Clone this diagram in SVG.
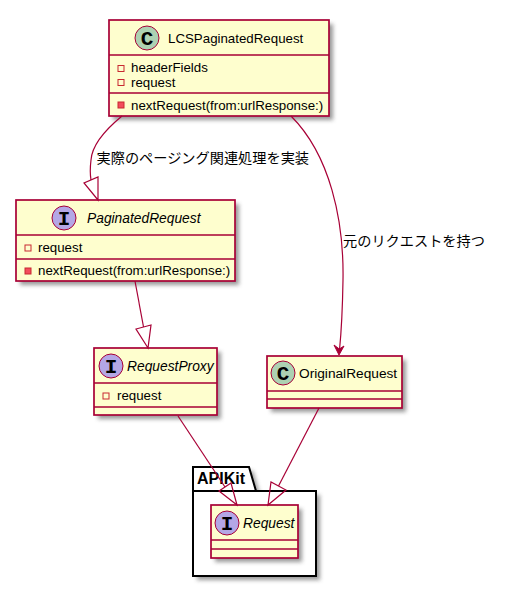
<svg xmlns="http://www.w3.org/2000/svg" width="514" height="600" viewBox="0 0 514 600">
<style>
.box{fill:#FEFECE;stroke:#A80036;stroke-width:1.7}
.div{stroke:#A80036;stroke-width:1.5;fill:none}
.t{font-family:"Liberation Sans","Noto Sans CJK JP",sans-serif;font-size:13.300px;fill:#000}
.i{font-style:italic;font-size:13.800px}
.n{font-size:13.700px}
.l{font-size:14.200px}
.sh{fill:#444;opacity:.55}
.cc{fill:#ADD1B2;stroke:#A80036;stroke-width:1}
.ci{fill:#B4A7E5;stroke:#A80036;stroke-width:1}
.g{font-family:"Liberation Mono","DejaVu Sans Mono",monospace;font-size:21px;font-weight:bold;fill:#000;text-anchor:middle}
.v{fill:none;stroke:#C82930;stroke-width:1}
.m{fill:#F24D5C;stroke:#C82930;stroke-width:1}
.e{fill:none;stroke:#A80036;stroke-width:1.200}
.h{fill:none;stroke:#A80036;stroke-width:1.200}
.pk{fill:#fff;stroke:#000;stroke-width:2}
</style>
<defs><filter id="s" x="-20%" y="-20%" width="150%" height="150%"><feGaussianBlur stdDeviation="2"/></filter></defs>

<g id="package-APIKit">
<path class="sh" d="M197 471H253L260 495H320V580H197Z" filter="url(#s)"/>
<path class="pk" d="M193 491V467H249L256 491H316V576H193Z"/>
<path d="M193 491H256" stroke="#000" stroke-width="2" fill="none"/>
<text x="197" y="484" font-family="'Liberation Sans',sans-serif" font-size="16" font-weight="bold">APIKit</text>
</g>

<g id="LCSPaginatedRequest">
<rect class="sh" x="113" y="24" width="220" height="96" filter="url(#s)"/>
<rect class="box" x="109" y="20" width="220" height="96"/>
<path class="div" d="M109 55H329M109 93H329"/>
<circle class="cc" cx="147" cy="38" r="12"/>
<text class="g" x="147" y="45">C</text>
<text class="t" x="168" y="43">LCSPaginatedRequest</text>
<rect class="v" x="118" y="65.500" width="6" height="6"/>
<text class="t" x="131" y="72">headerFields</text>
<rect class="v" x="118" y="79.500" width="6" height="6"/>
<text class="t" x="131" y="87">request</text>
<rect class="m" x="118" y="102" width="6" height="6"/>
<text class="t" x="131" y="110">nextRequest(from:urlResponse:)</text>
</g>

<g id="PaginatedRequest">
<rect class="sh" x="20" y="204" width="219" height="81" filter="url(#s)"/>
<rect class="box" x="16" y="200" width="219" height="81"/>
<path class="div" d="M16 235H235M16 259H235"/>
<circle class="ci" cx="64" cy="218" r="12"/>
<text class="g" x="64" y="225">I</text>
<text class="t i" x="87" y="223">PaginatedRequest</text>
<rect class="v" x="25" y="245" width="6" height="6"/>
<text class="t" x="38" y="252">request</text>
<rect class="m" x="25" y="268" width="6" height="6"/>
<text class="t" x="38" y="275">nextRequest(from:urlResponse:)</text>
</g>

<g id="RequestProxy">
<rect class="sh" x="98" y="352" width="123" height="67" filter="url(#s)"/>
<rect class="box" x="94" y="348" width="123" height="67"/>
<path class="div" d="M94 383H217M94 407H217"/>
<circle class="ci" cx="111" cy="366" r="12"/>
<text class="g" x="111" y="373">I</text>
<text class="t i" x="127" y="371">RequestProxy</text>
<rect class="v" x="103" y="393" width="6" height="6"/>
<text class="t" x="117" y="400">request</text>
</g>

<g id="OriginalRequest">
<rect class="sh" x="271" y="360" width="135" height="52" filter="url(#s)"/>
<rect class="box" x="267" y="356" width="135" height="52"/>
<path class="div" d="M267 391H402M267 399H402"/>
<circle class="cc" cx="283" cy="373" r="12"/>
<text class="g" x="283" y="380">C</text>
<text class="t n" x="299" y="378">OriginalRequest</text>
</g>

<g id="Request">
<rect class="sh" x="215" y="509" width="87" height="53" filter="url(#s)"/>
<rect class="box" x="211" y="505" width="87" height="53"/>
<path class="div" d="M211 540H298M211 549H298"/>
<circle class="ci" cx="227" cy="523" r="12"/>
<text class="g" x="227" y="530">I</text>
<text class="t i" x="243" y="528">Request</text>
</g>

<g id="connectors">
<path class="e" d="M122 116C105 130 92 145 91 160C90 168 90 174 91 180"/>
<path class="h" d="M98 200L84 183L98 177Z"/>
<path class="e" d="M135 281L143.500 327"/>
<path class="h" d="M148 348L136 329L151 325Z"/>
<path class="e" d="M178 416L225 487"/>
<path class="h" d="M237 505L219 491L231 483Z"/>
<path class="e" d="M319 408L278.500 486"/>
<path class="h" d="M268 505L271 482L286 490Z"/>
<path class="e" d="M291 116C330 155 344 220 343 280C342.500 310 341 335 339.500 350"/>
<path d="M339 355L334 345L339.300 349L344 346Z" fill="#A80036" stroke="#A80036"/>
<text class="t l" x="96.500" y="163">実際のページング関連処理を実装</text>
<text class="t l" x="343" y="246">元のリクエストを持つ</text>
</g>
</svg>
